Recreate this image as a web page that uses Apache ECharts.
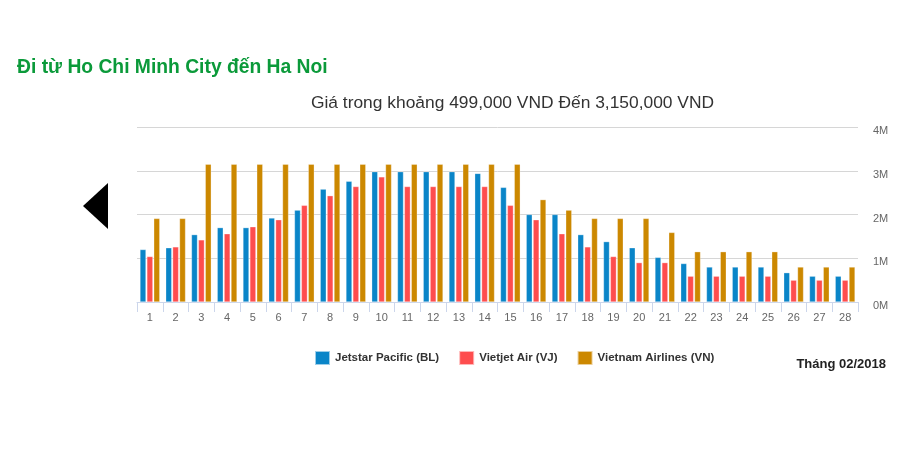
<!DOCTYPE html>
<html>
<head>
<meta charset="utf-8">
<script src="https://cdn.jsdelivr.net/npm/echarts@6/dist/echarts.min.js"></script>
<style>html,body{margin:0;padding:0;background:#fff}#c{width:900px;height:471px}</style>
</head>
<body>
<div id="c"></div>
<script>
const days = ['1','2','3','4','5','6','7','8','9','10','11','12','13','14','15','16','17','18','19','20','21','22','23','24','25','26','27','28'];
const jetstar = [1.2,1.24,1.54,1.7,1.7,1.92,2.1,2.58,2.76,2.98,2.98,2.98,2.98,2.94,2.62,2.0,2.0,1.54,1.38,1.24,1.02,0.88,0.8,0.8,0.8,0.67,0.59,0.59];
const vietjet = [1.04,1.26,1.42,1.56,1.72,1.88,2.21,2.43,2.64,2.86,2.64,2.64,2.64,2.64,2.21,1.88,1.56,1.26,1.04,0.9,0.9,0.59,0.59,0.59,0.59,0.499,0.499,0.499];
const vna = [1.91,1.91,3.15,3.15,3.15,3.15,3.15,3.15,3.15,3.15,3.15,3.15,3.15,3.15,3.15,2.34,2.1,1.91,1.91,1.91,1.59,1.15,1.15,1.15,1.15,0.8,0.8,0.8];
const seriesNames = ['Jetstar Pacific (BL)','Vietjet Air (VJ)','Vietnam Airlines (VN)'];
const yTicks = [0,1,2,3,4];

const M = 1000000;
const colors = ['#0a85c8','#fe4d4e','#cc8800'];
const chart = echarts.init(document.getElementById('c'));
const FONT = '"Liberation Sans", Arial, sans-serif';
chart.setOption({
  animation: false,
  color: colors,
  textStyle: {fontFamily: FONT},
  title: [
    {text: 'Đi từ Ho Chi Minh City đến Ha Noi', left: 12, top: 53,
     textStyle: {color: '#0b9a3a', fontSize: 19.3, fontWeight: 'bold', fontFamily: FONT}},
    {text: 'Giá trong khoảng 499,000 VND Đến 3,150,000 VND', left: 507.5, top: 90, textAlign: 'center',
     textStyle: {color: '#333', fontSize: 17.4, fontWeight: 'normal', fontFamily: FONT}},
    {text: 'Tháng 02/2018', right: 9, top: 353,
     textStyle: {color: '#222', fontSize: 13, fontWeight: 'bold', fontFamily: FONT}}
  ],
  legend: {
    left: 309, top: 345, icon: 'rect', itemWidth: 15, itemHeight: 14, itemGap: 19,
    data: seriesNames,
    textStyle: {color: '#333', fontSize: 11.5, fontWeight: 'bold', fontFamily: FONT}
  },
  grid: {left: 137, right: 42, top: 127, bottom: 169, containLabel: false},
  xAxis: {
    type: 'category', data: days,
    axisLine: {lineStyle: {color: '#ccd6eb'}},
    axisTick: {show: true, length: 10, lineStyle: {color: '#ccd6eb'}},
    axisLabel: {color: '#666', fontSize: 11, margin: 10, fontFamily: FONT}
  },
  yAxis: {
    type: 'value', position: 'right', min: yTicks[0] * M, max: yTicks[yTicks.length - 1] * M, interval: M,
    axisLine: {show: false}, axisTick: {show: false},
    splitLine: {lineStyle: {color: '#d6d6d6', width: 1}},
    axisLabel: {color: '#666', fontSize: 11, margin: 15, fontFamily: FONT, verticalAlign: 'top', lineHeight: 8,
      formatter: v => (v / M) + 'M'}
  },
  series: [jetstar, vietjet, vna].map((d, i) => ({
    name: seriesNames[i], type: 'bar', barWidth: 6, barGap: '15%',
    data: d.map(v => v * M),
    itemStyle: {borderColor: 'rgba(255,255,255,0.6)', borderWidth: 0.5}
  })),
  graphic: [{
    type: 'polygon',
    shape: {points: [[83, 206], [108, 183], [108, 229]]},
    style: {fill: '#000'}
  }]
});
</script>
</body>
</html>
